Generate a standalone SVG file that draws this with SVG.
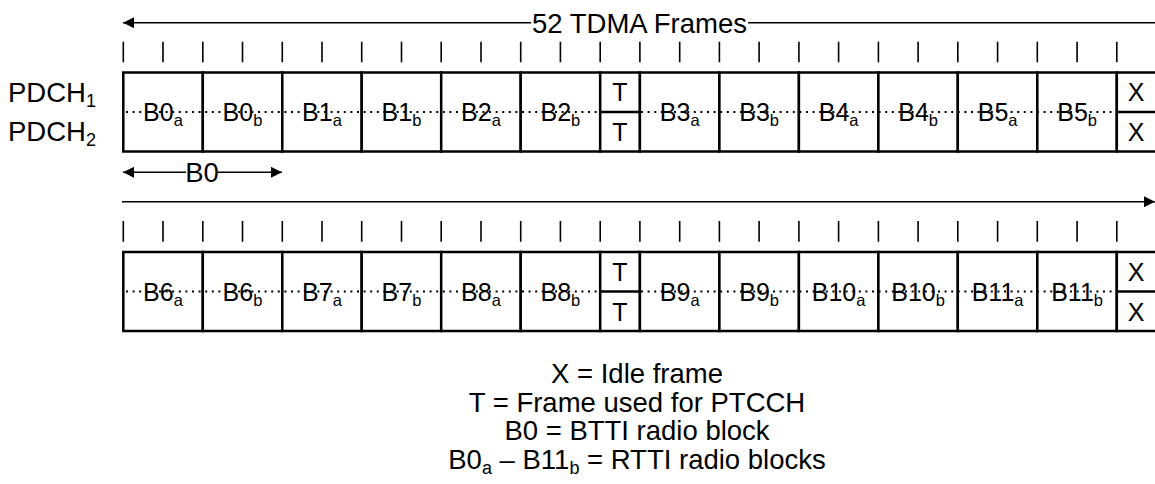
<svg xmlns="http://www.w3.org/2000/svg" width="1155" height="484" viewBox="0 0 1155 484">
<defs>
<style>
text{font-family:"Liberation Sans",Arial,sans-serif;fill:#000}
.lbl{font-size:25px;text-anchor:middle}
.big{font-size:27.5px}
.leg{font-size:27.5px;text-anchor:middle}
.cell{fill:#fff;stroke:#000;stroke-width:2.5}
.mid{stroke:#000;stroke-width:2.5}
.dot{stroke:#000;stroke-width:2;stroke-dasharray:2 4.6;fill:none}
.tick{stroke:#000;stroke-width:1.6}
.ln{stroke:#000;stroke-width:1.6;fill:none}
</style>
<marker id="ah" viewBox="0 0 10 10" refX="10" refY="5" markerWidth="17" markerHeight="11" markerUnits="userSpaceOnUse" orient="auto-start-reverse"><path d="M0,0 L10,5 L0,10 z" fill="#000"/></marker>
</defs>
<rect width="1155" height="484" fill="#fff"/>

<g id="connectors">
<line class="ln" x1="123" y1="22.7" x2="531" y2="22.7" marker-start="url(#ah)"/>
<line class="ln" x1="748" y1="22.7" x2="1156" y2="22.7"/>
<line class="ln" x1="123" y1="172.3" x2="186" y2="172.3" marker-start="url(#ah)"/>
<line class="ln" x1="218" y1="172.3" x2="282" y2="172.3" marker-end="url(#ah)"/>
<line class="ln" x1="122" y1="201.7" x2="1155" y2="201.7" marker-end="url(#ah)"/>
</g>

<g id="title"><text class="big" x="639.5" y="32.5" text-anchor="middle">52 TDMA Frames</text></g>
<g id="b0-label"><text class="big" x="202" y="182" text-anchor="middle">B0</text></g>

<g id="pdch-labels">
<text class="big" x="8" y="102">PDCH<tspan font-size="18" dy="5">1</tspan></text>
<text class="big" x="8" y="140.5">PDCH<tspan font-size="18" dy="5">2</tspan></text>
</g>

<g id="ticks1">
<path class="tick" d="M123.3,41.7V62.3M163,41.7V62.3M202.8,41.7V62.3M242.5,41.7V62.3M282.3,41.7V62.3M322,41.7V62.3M361.7,41.7V62.3M401.5,41.7V62.3M441.2,41.7V62.3M481,41.7V62.3M520.7,41.7V62.3M560.4,41.7V62.3M600.2,41.7V62.3M639.9,41.7V62.3M679.7,41.7V62.3M719.4,41.7V62.3M759.1,41.7V62.3M798.9,41.7V62.3M838.6,41.7V62.3M878.4,41.7V62.3M918.1,41.7V62.3M957.8,41.7V62.3M997.6,41.7V62.3M1037.3,41.7V62.3M1077.1,41.7V62.3M1116.8,41.7V62.3"/>
</g>
<g id="ticks2">
<path class="tick" d="M123.3,221V241.7M163,221V241.7M202.8,221V241.7M242.5,221V241.7M282.3,221V241.7M322,221V241.7M361.7,221V241.7M401.5,221V241.7M441.2,221V241.7M481,221V241.7M520.7,221V241.7M560.4,221V241.7M600.2,221V241.7M639.9,221V241.7M679.7,221V241.7M719.4,221V241.7M759.1,221V241.7M798.9,221V241.7M838.6,221V241.7M878.4,221V241.7M918.1,221V241.7M957.8,221V241.7M997.6,221V241.7M1037.3,221V241.7M1077.1,221V241.7M1116.8,221V241.7"/>
</g>

<!-- Row 1 -->
<g id="row1">
<g id="r1-B0a"><rect class="cell" x="123.3" y="72.5" width="79.5" height="79"/></g>
<g id="r1-B0b"><rect class="cell" x="202.8" y="72.5" width="79.5" height="79"/></g>
<g id="r1-B1a"><rect class="cell" x="282.3" y="72.5" width="79.4" height="79"/></g>
<g id="r1-B1b"><rect class="cell" x="361.7" y="72.5" width="79.5" height="79"/></g>
<g id="r1-B2a"><rect class="cell" x="441.2" y="72.5" width="79.5" height="79"/></g>
<g id="r1-B2b"><rect class="cell" x="520.7" y="72.5" width="79.5" height="79"/></g>
<g id="r1-T"><rect class="cell" x="600.2" y="72.5" width="39.7" height="79"/></g>
<g id="r1-B3a"><rect class="cell" x="639.9" y="72.5" width="79.5" height="79"/></g>
<g id="r1-B3b"><rect class="cell" x="719.4" y="72.5" width="79.5" height="79"/></g>
<g id="r1-B4a"><rect class="cell" x="798.9" y="72.5" width="79.5" height="79"/></g>
<g id="r1-B4b"><rect class="cell" x="878.4" y="72.5" width="79.4" height="79"/></g>
<g id="r1-B5a"><rect class="cell" x="957.8" y="72.5" width="79.5" height="79"/></g>
<g id="r1-B5b"><rect class="cell" x="1037.3" y="72.5" width="79.5" height="79"/></g>
<g id="r1-X"><rect class="cell" x="1116.8" y="72.5" width="41" height="79"/></g>
<path class="dot" d="M126,112H600M641,112H1116"/>
<path class="mid" d="M600.2,112H639.9M1116.8,112H1156"/>
<text class="lbl" x="163" y="121">B0<tspan font-size="16.5" dy="5">a</tspan></text>
<text class="lbl" x="242.5" y="121">B0<tspan font-size="16.5" dy="5">b</tspan></text>
<text class="lbl" x="322" y="121">B1<tspan font-size="16.5" dy="5">a</tspan></text>
<text class="lbl" x="401.5" y="121">B1<tspan font-size="16.5" dy="5">b</tspan></text>
<text class="lbl" x="481" y="121">B2<tspan font-size="16.5" dy="5">a</tspan></text>
<text class="lbl" x="560.4" y="121">B2<tspan font-size="16.5" dy="5">b</tspan></text>
<text class="lbl" x="620" y="101">T</text>
<text class="lbl" x="620" y="141">T</text>
<text class="lbl" x="679.7" y="121">B3<tspan font-size="16.5" dy="5">a</tspan></text>
<text class="lbl" x="759.1" y="121">B3<tspan font-size="16.5" dy="5">b</tspan></text>
<text class="lbl" x="838.6" y="121">B4<tspan font-size="16.5" dy="5">a</tspan></text>
<text class="lbl" x="918.1" y="121">B4<tspan font-size="16.5" dy="5">b</tspan></text>
<text class="lbl" x="997.6" y="121">B5<tspan font-size="16.5" dy="5">a</tspan></text>
<text class="lbl" x="1077.1" y="121">B5<tspan font-size="16.5" dy="5">b</tspan></text>
<text class="lbl" x="1136" y="101">X</text>
<text class="lbl" x="1136" y="141">X</text>
</g>

<!-- Row 2 -->
<g id="row2">
<g id="r2-B6a"><rect class="cell" x="123.3" y="252" width="79.5" height="79"/></g>
<g id="r2-B6b"><rect class="cell" x="202.8" y="252" width="79.5" height="79"/></g>
<g id="r2-B7a"><rect class="cell" x="282.3" y="252" width="79.4" height="79"/></g>
<g id="r2-B7b"><rect class="cell" x="361.7" y="252" width="79.5" height="79"/></g>
<g id="r2-B8a"><rect class="cell" x="441.2" y="252" width="79.5" height="79"/></g>
<g id="r2-B8b"><rect class="cell" x="520.7" y="252" width="79.5" height="79"/></g>
<g id="r2-T"><rect class="cell" x="600.2" y="252" width="39.7" height="79"/></g>
<g id="r2-B9a"><rect class="cell" x="639.9" y="252" width="79.5" height="79"/></g>
<g id="r2-B9b"><rect class="cell" x="719.4" y="252" width="79.5" height="79"/></g>
<g id="r2-B10a"><rect class="cell" x="798.9" y="252" width="79.5" height="79"/></g>
<g id="r2-B10b"><rect class="cell" x="878.4" y="252" width="79.4" height="79"/></g>
<g id="r2-B11a"><rect class="cell" x="957.8" y="252" width="79.5" height="79"/></g>
<g id="r2-B11b"><rect class="cell" x="1037.3" y="252" width="79.5" height="79"/></g>
<g id="r2-X"><rect class="cell" x="1116.8" y="252" width="41" height="79"/></g>
<path class="dot" d="M126,291.5H600M641,291.5H1116"/>
<path class="mid" d="M600.2,291.5H639.9M1116.8,291.5H1156"/>
<text class="lbl" x="163" y="300.5">B6<tspan font-size="16.5" dy="5">a</tspan></text>
<text class="lbl" x="242.5" y="300.5">B6<tspan font-size="16.5" dy="5">b</tspan></text>
<text class="lbl" x="322" y="300.5">B7<tspan font-size="16.5" dy="5">a</tspan></text>
<text class="lbl" x="401.5" y="300.5">B7<tspan font-size="16.5" dy="5">b</tspan></text>
<text class="lbl" x="481" y="300.5">B8<tspan font-size="16.5" dy="5">a</tspan></text>
<text class="lbl" x="560.4" y="300.5">B8<tspan font-size="16.5" dy="5">b</tspan></text>
<text class="lbl" x="620" y="280.5">T</text>
<text class="lbl" x="620" y="320.5">T</text>
<text class="lbl" x="679.7" y="300.5">B9<tspan font-size="16.5" dy="5">a</tspan></text>
<text class="lbl" x="759.1" y="300.5">B9<tspan font-size="16.5" dy="5">b</tspan></text>
<text class="lbl" x="838.6" y="300.5">B10<tspan font-size="16.5" dy="5">a</tspan></text>
<text class="lbl" x="918.1" y="300.5">B10<tspan font-size="16.5" dy="5">b</tspan></text>
<text class="lbl" x="997.6" y="300.5">B11<tspan font-size="16.5" dy="5">a</tspan></text>
<text class="lbl" x="1077.1" y="300.5">B11<tspan font-size="16.5" dy="5">b</tspan></text>
<text class="lbl" x="1136" y="280.5">X</text>
<text class="lbl" x="1136" y="320.5">X</text>
</g>

<g id="legend">
<text class="leg" x="637" y="383">X = Idle frame</text>
<text class="leg" x="637" y="411.5">T = Frame used for PTCCH</text>
<text class="leg" x="637" y="440">B0 = BTTI radio block</text>
<text class="leg" x="637" y="468.5">B0<tspan font-size="18" dy="5">a</tspan><tspan dy="-5"> – B11</tspan><tspan font-size="18" dy="5">b</tspan><tspan dy="-5"> = RTTI radio blocks</tspan></text>
</g>
</svg>
